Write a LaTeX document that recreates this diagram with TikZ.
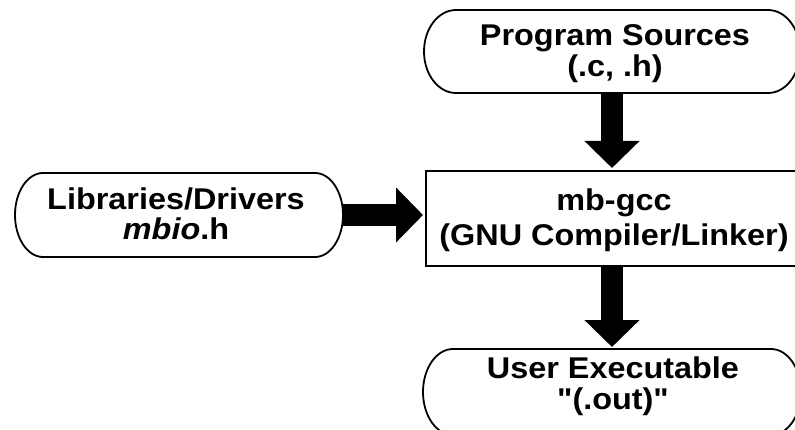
\documentclass[tikz,border=0pt]{standalone}
\usepackage{fontspec}
\setmainfont{Liberation Sans}[FakeStretch=1.08, Ligatures=TeXOff]
\usetikzlibrary{arrows.meta}
\tikzset{
  shapebox/.style={inner sep=0pt, outer sep=0pt},
  outline/.style={line width=1.8pt, draw=black},
  txt/.style={inner sep=0pt, outer sep=0pt, anchor=base, align=center},
  blockarrow/.style={line width=21.5pt, line cap=butt, draw=black,
    -{Triangle[width=53.5pt,length=27pt]}}
}
\newcommand{\lblfont}[1]{\fontsize{30}{#1}\selectfont\bfseries\lineskiplimit=-100pt\relax}
\newcommand{\stadium}[2]{% name, x radius
  \draw[outline] ([xshift=#2pt]#1.north west) -- ([xshift=-#2pt]#1.north east)
    arc[start angle=90, end angle=-90, x radius=#2pt, y radius=0.5*\pgfkeysvalueof{/tmp/h}pt]
    -- ([xshift=#2pt]#1.south west)
    arc[start angle=270, end angle=90, x radius=#2pt, y radius=0.5*\pgfkeysvalueof{/tmp/h}pt]
    -- cycle;}
\begin{document}
\begin{tikzpicture}[x=1pt,y=1pt]
\useasboundingbox (0,0) rectangle (795,-430);
\clip (0,0) rectangle (795,-430);
% shapes
\node[shapebox, minimum width=376pt, minimum height=83pt] (src) at (612,-51.5) {};
\node[shapebox, minimum width=328pt, minimum height=84pt] (lib) at (179,-215) {};
\node[shapebox, outline, minimum width=374pt, minimum height=95pt] (gcc) at (613,-218.5) {};
\node[shapebox, minimum width=378pt, minimum height=86pt] (exe) at (612,-392) {};
\pgfkeyssetvalue{/tmp/h}{83}\stadium{src}{32}
\pgfkeyssetvalue{/tmp/h}{84}\stadium{lib}{28}
\pgfkeyssetvalue{/tmp/h}{86}\stadium{exe}{30}
% texts
\node[txt, font=\lblfont{31}] (srcT) at (615,-77) {Program Sources\\(.c, .h)};
\node[txt, font=\lblfont{30}] (libT) at (176,-240) {Libraries/Drivers\\\textit{mbio}.h};
\node[txt, font=\lblfont{35}] (gccT) at (614,-246) {mb-gcc\\(GNU Compiler/Linker)};
\node[txt, font=\lblfont{31}] (exeT) at (613,-409) {User Executable\\"(.out)"};
% arrows
\draw[blockarrow] (src.south) -- ([yshift=3pt]src.south |- gcc.north);
\draw[blockarrow] (lib.east) -- ([xshift=-3pt]lib.east -| gcc.west);
\draw[blockarrow] (gcc.south -| src.south) -- ([yshift=2pt]src.south |- exe.north);
\end{tikzpicture}
\end{document}
